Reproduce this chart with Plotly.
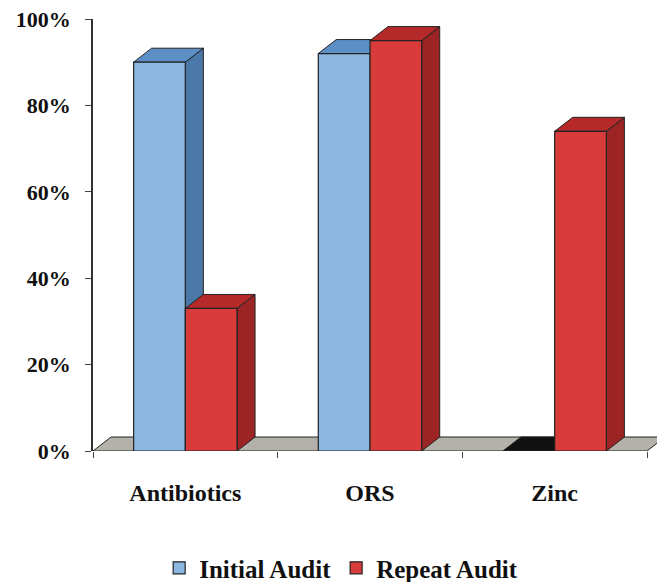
import plotly.graph_objects as go

# Share of cases managed per audit round
categories = ["Antibiotics", "ORS", "Zinc"]
initial_audit = [90, 92, 0]
repeat_audit = [33, 95, 74]
y_ticks = [0, 20, 40, 60, 80, 100]

series = [
    dict(name="Initial Audit", values=initial_audit,
         front="#8cb7e1", top="#5b8fc6", side="#4a78a8"),
    dict(name="Repeat Audit", values=repeat_audit,
         front="#d83b3a", top="#b52a29", side="#9c2424"),
]

BAR_W = 0.28      # width of one bar in category units
DEPTH_X = 0.0975  # 3-D depth offset, category units
DEPTH_Y = 3.24    # 3-D depth offset, percentage points
EDGE = "#222222"
FONT = "Liberation Serif"

fig = go.Figure()
shapes = []


def poly(points, fill):
    path = "M " + " L ".join(f"{x},{y}" for x, y in points) + " Z"
    return dict(type="path", path=path, xref="x", yref="y", layer="below",
                fillcolor=fill, line=dict(color=EDGE, width=1))


# floor slab under all categories
lo, hi = -0.5, len(categories) - 0.5
shapes.append(poly([(lo, 0), (hi, 0), (hi + DEPTH_X, DEPTH_Y), (lo + DEPTH_X, DEPTH_Y)],
                   "#b4b1ab"))

# top and side faces of every bar, painted left to right
for ci in range(len(categories)):
    for si, s in enumerate(series):
        v = s["values"][ci]
        x0 = ci + (si - 1) * BAR_W
        x1 = x0 + BAR_W
        top_color = s["top"] if v > 0 else "#111111"
        if v > 0:
            shapes.append(poly([(x1, 0), (x1, v), (x1 + DEPTH_X, v + DEPTH_Y),
                                (x1 + DEPTH_X, DEPTH_Y)], s["side"]))
        shapes.append(poly([(x0, v), (x1, v), (x1 + DEPTH_X, v + DEPTH_Y),
                            (x0 + DEPTH_X, v + DEPTH_Y)], top_color))

# front faces of the bars
for si, s in enumerate(series):
    fig.add_trace(go.Bar(
        x=list(range(len(categories))),
        y=s["values"],
        name=s["name"],
        width=BAR_W,
        offset=(si - 1) * BAR_W,
        marker=dict(color=s["front"], line=dict(color=EDGE, width=1.2)),
        hoverinfo="skip",
    ))

fig.update_layout(
    width=657, height=582,
    margin=dict(l=93, r=0, t=19, b=131, autoexpand=False),
    paper_bgcolor="white", plot_bgcolor="white",
    barmode="overlay",
    shapes=shapes,
    showlegend=True,
    legend=dict(orientation="h", x=0.44, xanchor="center", y=-0.271, yanchor="middle",
                font=dict(family=FONT, size=25, color="#111111", weight="bold"),
                itemwidth=30, tracegroupgap=0),
    xaxis=dict(
        range=[-0.5, 2.5 + 10 / 184.67],
        tickmode="array",
        tickvals=list(range(len(categories))),
        ticktext=categories,
        ticks="",
        ticklabelstandoff=25,
        showgrid=False, zeroline=False, showline=False,
        tickfont=dict(family=FONT, size=24, color="#111111", weight="bold"),
        minor=dict(tickmode="array",
                   tickvals=[i - 0.5 for i in range(len(categories) + 1)],
                   ticks="outside", ticklen=6, tickcolor="#444444", showgrid=False),
    ),
    yaxis=dict(
        range=[0, 100],
        tickmode="array",
        tickvals=y_ticks,
        ticktext=[f"{t}%" for t in y_ticks],
        ticks="outside", ticklen=6, tickcolor="#444444",
        showline=True, linecolor="#333333", linewidth=1.5,
        showgrid=False, zeroline=False,
        ticklabelstandoff=10,
        tickfont=dict(family=FONT, size=22, color="#111111", weight="bold"),
    ),
)

fig.write_html("out.html")
